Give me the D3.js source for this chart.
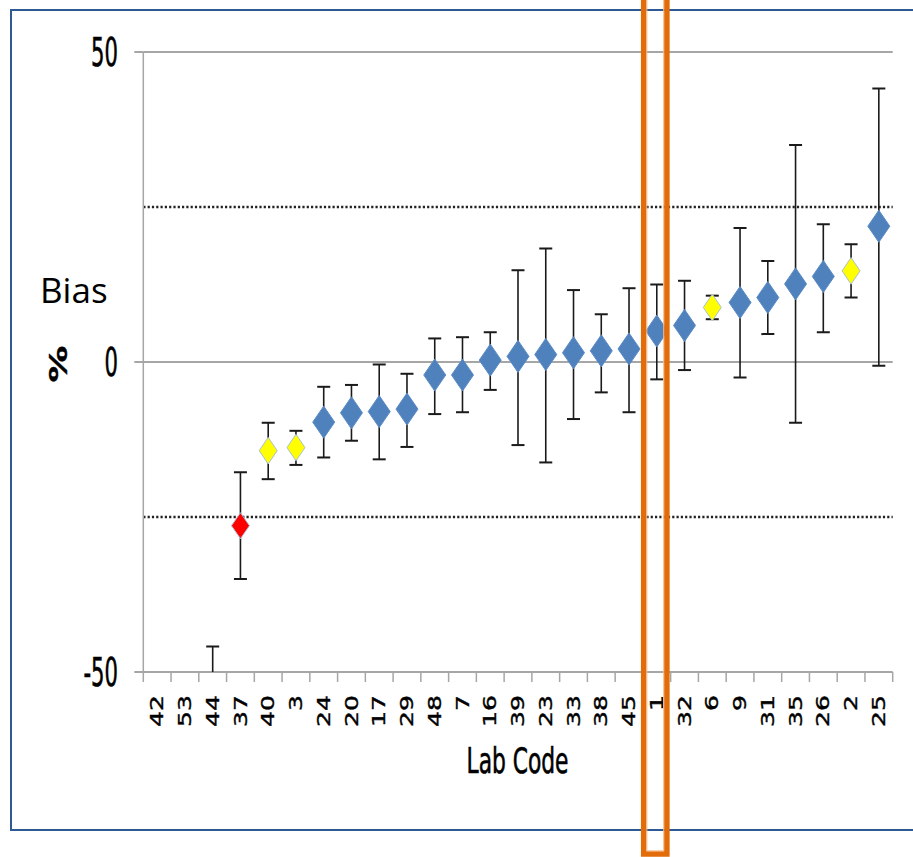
<!DOCTYPE html>
<html>
<head>
<meta charset="utf-8">
<script src="https://cdn.jsdelivr.net/npm/d3@7"></script>
<style>
  html, body { margin: 0; padding: 0; background: #ffffff; }
  svg { display: block; }
  .tk { font-family: "DejaVu Sans Condensed", "DejaVu Sans", sans-serif; font-stretch: condensed; fill: #000; stroke: #000; stroke-width: 0.35px; }
</style>
</head>
<body>
<svg id="chart" width="913" height="857"></svg>
<script>
// ---- data ----
const labCodes = ["42","53","44","37","40","3","24","20","17","29","48","7","16","39","23","33","38","45","1","32","6","9","31","35","26","2","25"];
const biasValues = [null,null,-56,-26.4,-14.3,-13.8,-9.7,-8.2,-8.0,-7.6,-2.1,-2.1,0.3,0.9,1.2,1.5,1.8,2.1,5.0,5.9,8.8,9.6,10.4,12.6,13.8,14.7,21.9];
const upperValues = [null,null,-45.9,-17.8,-9.8,-11.1,-4.0,-3.7,-0.4,-1.9,3.8,4.0,4.8,14.8,18.3,11.6,7.7,11.9,12.5,13.1,10.7,21.6,16.3,35.0,22.2,19.0,44.1];
const lowerValues = [null,null,-66,-35.0,-18.9,-16.6,-15.4,-12.7,-15.7,-13.7,-8.4,-8.1,-4.5,-13.4,-16.2,-9.2,-4.9,-8.1,-2.8,-1.3,6.9,-2.5,4.5,-9.8,4.8,10.4,-0.6];
const statusValues = ["ok","ok","ok","bad","warn","warn","ok","ok","ok","ok","ok","ok","ok","ok","ok","ok","ok","ok","ok","ok","warn","ok","ok","ok","ok","warn","ok"];
const yTicks = [-50, 0, 50];
const limitLines = [-25, 25];
const highlightLab = "1";
const yLabel = "%";
const xLabel = "Lab Code";
const sideLabel = "Bias";

// ---- layout ----
const K = 1.64; // vertical stretch of the original picture
const svg = d3.select("#chart");
const x = d3.scaleBand().domain(labCodes).range([143.3, 892.7]).padding(0);
const y = d3.scaleLinear().domain([-50, 50]).range([672, 52]);
const x0 = 143.3, x1 = 892.7;

// outer frame
svg.append("rect").attr("x", 11).attr("y", 10).attr("width", 920).attr("height", 820)
  .attr("fill", "none").attr("stroke", "#2e5a94").attr("stroke-width", 2);

const pts = labCodes.map((c, i) => ({c, v: biasValues[i], hi: upperValues[i], lo: lowerValues[i], s: statusValues[i]}))
  .filter(d => d.v !== null);

// gridlines (50 and 0)
svg.append("g").selectAll("line").data(yTicks.filter(t => t !== -50)).join("line")
  .attr("x1", x0).attr("x2", x1).attr("y1", d => y(d)).attr("y2", d => y(d))
  .attr("stroke", "#a6a6a6").attr("stroke-width", 2);

// dotted limits
svg.append("g").selectAll("line").data(limitLines).join("line")
  .attr("x1", x0).attr("x2", x1).attr("y1", d => y(d)).attr("y2", d => y(d))
  .attr("stroke", "#222").attr("stroke-width", 2.3).attr("stroke-dasharray", "2.2,2.1");

// axes lines
svg.append("line").attr("x1", x0).attr("x2", x0).attr("y1", y(50)).attr("y2", y(-50))
  .attr("stroke", "#a6a6a6").attr("stroke-width", 1.5);
svg.append("line").attr("x1", x0).attr("x2", x1).attr("y1", y(-50)).attr("y2", y(-50))
  .attr("stroke", "#a6a6a6").attr("stroke-width", 2);
// y ticks
svg.append("g").selectAll("line").data(yTicks).join("line")
  .attr("x1", x0 - 9).attr("x2", x0).attr("y1", d => y(d)).attr("y2", d => y(d))
  .attr("stroke", "#a6a6a6").attr("stroke-width", 2);
// x ticks at band edges
const edges = labCodes.map(c => x(c)).concat([x1]);
svg.append("g").selectAll("line").data(edges).join("line")
  .attr("x1", d => d).attr("x2", d => d).attr("y1", y(-50)).attr("y2", y(-50) + 10)
  .attr("stroke", "#a6a6a6").attr("stroke-width", 1.5);

// y tick labels
svg.append("g").selectAll("g").data(yTicks).join("g")
  .attr("transform", d => `translate(118,${y(d)}) scale(1,${K})`)
  .append("text").attr("class", "tk").attr("text-anchor", "end").attr("dy", "0.36em")
  .attr("font-size", 23.5).text(d => d);

// x tick labels
svg.append("g").selectAll("g").data(labCodes).join("g")
  .attr("transform", d => `translate(${x(d) + x.bandwidth() / 2},695) scale(1,${K}) rotate(-90)`)
  .append("text").attr("class", "tk").attr("text-anchor", "end").attr("dy", "0.36em")
  .attr("font-size", 17).text(d => d);

// axis titles
const lab = svg.append("g").attr("transform", `translate(517.5,773) scale(1,${K})`);
const labT = lab.append("text").attr("class", "tk").attr("text-anchor", "middle")
  .attr("font-size", 21.7).text(xLabel);
const w = labT.node().getComputedTextLength();
lab.attr("transform", `translate(517.5,773) scale(${102 / w},${K})`);

svg.append("g").attr("transform", `translate(58,364) scale(1,${K}) rotate(-90)`)
  .append("text").attr("class", "tk").attr("text-anchor", "middle").attr("dy", "0.36em")
  .attr("font-size", 25).attr("font-weight", "bold").text(yLabel);

svg.append("text").attr("x", 40).attr("y", 303).attr("font-family", "'Open Sans', sans-serif")
  .attr("font-size", 35).attr("fill", "#000").text(sideLabel);

// clip
svg.append("clipPath").attr("id", "plot").append("rect")
  .attr("x", x0).attr("y", y(50)).attr("width", x1 - x0).attr("height", y(-50) - y(50));
const plot = svg.append("g").attr("clip-path", "url(#plot)");

// error bars
const eb = plot.append("g").attr("stroke", "#1a1a1a").attr("stroke-width", 1.6);
pts.forEach(d => {
  const cx = x(d.c) + x.bandwidth() / 2;
  eb.append("line").attr("x1", cx).attr("x2", cx).attr("y1", y(d.hi)).attr("y2", y(d.lo));
  eb.append("line").attr("x1", cx - 6.5).attr("x2", cx + 6.5).attr("y1", y(d.hi)).attr("y2", y(d.hi)).attr("stroke-width", 2);
  eb.append("line").attr("x1", cx - 6.5).attr("x2", cx + 6.5).attr("y1", y(d.lo)).attr("y2", y(d.lo)).attr("stroke-width", 2);
});

// markers
const fills = {ok: "#4f81bd", warn: "#ffff00", bad: "#ff0000"};
const sizes = {ok: [11, 16], warn: [9, 13.3], bad: [9, 13]};
plot.append("g").selectAll("path").data(pts).join("path")
  .attr("d", d => {
    const [hw, hh] = sizes[d.s];
    return `M0,${-hh}L${hw},0L0,${hh}L${-hw},0Z`;
  })
  .attr("transform", d => `translate(${x(d.c) + x.bandwidth() / 2},${y(d.v)})`)
  .attr("fill", d => fills[d.s])
  .attr("stroke", d => d.s === "ok" ? "#5b8cc6" : "#a9bfd6").attr("stroke-width", 1);

// highlight box around lab 1
const hx = x(highlightLab) + x.bandwidth() / 2 - 1.5;
svg.append("rect").attr("x", hx - 11.6).attr("y", -10).attr("width", 23.2).attr("height", 864)
  .attr("fill", "none").attr("stroke", "#e36c0a").attr("stroke-width", 5.5);
svg.append("rect").attr("x", hx - 8.4).attr("y", -10).attr("width", 16.8).attr("height", 860.8)
  .attr("fill", "none").attr("stroke", "#f7b98a").attr("stroke-width", 1);
</script>
</body>
</html>
